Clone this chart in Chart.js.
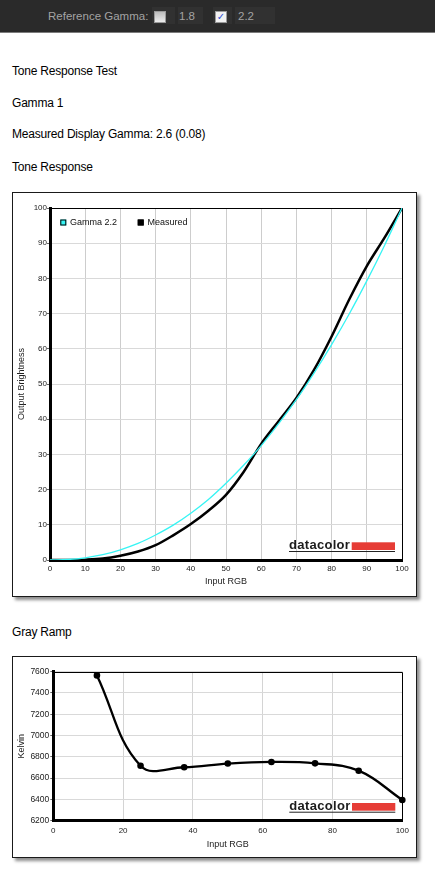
<!DOCTYPE html>
<html><head><meta charset="utf-8">
<script src="https://cdn.jsdelivr.net/npm/chart.js@4.4.1/dist/chart.umd.min.js"></script>
<style>
html,body{margin:0;padding:0;background:#fff;width:435px;height:876px;overflow:hidden;font-family:"Liberation Sans",Arial,sans-serif;}
#bar{position:absolute;left:0;top:0;width:435px;height:32px;background:#2a2a2a;border-bottom:1px solid #7c7c7c;}
.lbl{position:absolute;top:0;height:33px;line-height:33px;font-size:11.5px;color:#a3a3a3;white-space:nowrap;}
.fld{position:absolute;top:7px;height:17px;background:#313131;}
.cb{position:absolute;top:11px;width:10px;height:10px;border:1px solid #9a9a9a;background:linear-gradient(#bcbcbc,#ececec);}
.cbx{position:absolute;top:11px;width:10px;height:10px;border:1px solid #9a9a9a;background:#f2f2f2;color:#2c4fd6;font:bold 10px "DejaVu Sans",sans-serif;line-height:10px;text-align:center;overflow:hidden;}
.h{position:absolute;left:12px;font-size:12px;line-height:12px;color:#000;letter-spacing:-0.2px;white-space:nowrap;}
.frame{position:absolute;left:12px;width:405px;box-sizing:border-box;border:1px solid #1a1a1a;background:#fff;box-shadow:3px 3px 3px rgba(0,0,0,0.45);}
.frame canvas{display:block;}
</style>
</head>
<body>
<div id="bar">
  <div class="lbl" style="left:48px">Reference Gamma:</div>
  <div class="fld" style="left:152px;width:23px"></div>
  <div class="cb" style="left:154px"></div>
  <div class="fld" style="left:178px;width:25px"></div>
  <div class="lbl" style="left:179px">1.8</div>
  <div class="fld" style="left:213px;width:19px"></div>
  <div class="cbx" style="left:215px">✓</div>
  <div class="fld" style="left:235px;width:40px"></div>
  <div class="lbl" style="left:238px">2.2</div>
</div>
<div class="h" style="top:64.6px">Tone Response Test</div>
<div class="h" style="top:97px">Gamma 1</div>
<div class="h" style="top:128.3px">Measured Display Gamma: 2.6 (0.08)</div>
<div class="h" style="top:160.6px">Tone Response</div>
<div class="frame" style="top:192px;height:405px"><canvas id="c1" width="403" height="403"></canvas></div>
<div class="h" style="top:625.5px">Gray Ramp</div>
<div class="frame" style="top:656px;height:202px"><canvas id="c2" width="403" height="200"></canvas></div>
<script>
// ---- data ----
const inputRGB = [0,5,10,15,20,25,30,35,40,45,50,55,60,65,70,75,80,85,90,95,100];
const gamma22 = [0,0.14,0.63,1.5,2.9,4.7,7.1,9.9,13.3,17.2,21.8,26.9,32.5,38.8,45.6,53.1,61.2,69.9,79.3,89.3,100];
const measured = [0,0,0.1,0.4,1.2,2.4,4.2,7,10.2,14,18.5,25,33,39.5,46,54,63.5,74,83.5,91.5,100];
const toneXTicks = [0,10,20,30,40,50,60,70,80,90,100];
const toneYTicks = [0,10,20,30,40,50,60,70,80,90,100];
const rampInput = [12.5,25,37.5,50,62.5,75,87.5,100];
const rampKelvin = [7565,6717,6702,6737,6752,6739,6670,6395];
const rampXTicks = [0,20,40,60,80,100];
const rampYTicks = [6200,6400,6600,6800,7000,7200,7400,7600];

const FAM = '"Liberation Sans", Arial, sans-serif';
Chart.defaults.font.family = FAM;

const pts = (xs, ys) => xs.map((x,i)=>({x:x, y:ys[i]}));

const frameBorder = {
  id:'frameBorder',
  beforeDatasetsDraw(chart){
    const {ctx, chartArea:a} = chart;
    ctx.save(); ctx.strokeStyle='#000'; ctx.lineWidth=1;
    ctx.beginPath();
    ctx.moveTo(a.left, Math.round(a.top)+0.5);
    ctx.lineTo(Math.round(a.right)+0.5, Math.round(a.top)+0.5);
    ctx.lineTo(Math.round(a.right)+0.5, a.bottom);
    ctx.stroke(); ctx.restore();
  }
};
const logo = {
  id:'logo',
  afterDatasetsDraw(chart){
    const {ctx, chartArea:a} = chart;
    ctx.save();
    ctx.font = 'bold 13px ' + FAM;
    if ('letterSpacing' in ctx) ctx.letterSpacing = '0.3px';
    ctx.fillStyle = '#1c1c1c';
    ctx.textBaseline = 'alphabetic'; ctx.textAlign = 'left';
    ctx.fillText('datacolor', a.right-113, a.bottom-11);
    ctx.fillStyle = '#e63c36';
    ctx.fillRect(a.right-50.3, a.bottom-17.7, 43.3, 7.7);
    ctx.fillStyle = '#222';
    ctx.fillRect(a.right-113, a.bottom-9, 106, 1);
    ctx.restore();
  }
};
const legendIn = {
  id:'legendIn',
  afterDraw(chart){
    if (!chart.options.plugins.legendIn || !chart.options.plugins.legendIn.show) return;
    const {ctx, chartArea:a} = chart;
    ctx.save(); ctx.font = '9px ' + FAM; ctx.textBaseline = 'middle'; ctx.textAlign='left';
    let x = a.left + 10.3; const y = a.top + 14.5;
    chart.data.datasets.forEach(ds=>{
      ctx.fillStyle = ds.borderColor; ctx.fillRect(x, y-3, 6, 6);
      ctx.strokeStyle = '#000'; ctx.lineWidth = 1; ctx.strokeRect(x+0.5, y-2.5, 5, 5);
      ctx.fillStyle = '#111'; ctx.fillText(ds.label, x+9.7, y);
      x += 9.7 + ctx.measureText(ds.label).width + 20.7;
    });
    ctx.restore();
  }
};

function axis(opts){
  return {
    type:'linear', min:opts.min, max:opts.max,
    afterBuildTicks(s){ s.ticks = opts.ticks.map(v=>({value:v})); },
    ticks:{font:{size:opts.fs}, color:'#222', padding:opts.pad, maxRotation:0, autoSkip:false, callback: v => String(v)},
    grid:{
      color: c => (c.tick && (c.tick.value===opts.min)) ? 'rgba(0,0,0,0)' : opts.grid,
      lineWidth:1, tickLength:3, tickColor: opts.tickColor, drawTicks:true
    },
    border:{display:true, color:'#000', width:3},
    title:{display:true, text:opts.title, font:{size:9}, color:'#222', padding:opts.tpad},
    afterFit(s){ if (opts.w) s.width = opts.w; if (opts.h) s.height = opts.h; }
  };
}

new Chart(document.getElementById('c1'), {
  type:'line',
  data:{datasets:[
    {label:'Gamma 2.2', data:pts(inputRGB, gamma22), borderColor:'#36f4f4', backgroundColor:'#36f4f4', borderWidth:1.3, pointRadius:0, cubicInterpolationMode:'monotone', fill:false},
    {label:'Measured', data:pts(inputRGB, measured), borderColor:'#000', backgroundColor:'#000', borderWidth:2.5, pointRadius:0, cubicInterpolationMode:'monotone', fill:false}
  ]},
  options:{
    responsive:false, animation:false, events:[],
    layout:{padding:{top:15, right:14, left:0, bottom:0}},
    plugins:{legend:{display:false}, tooltip:{enabled:false}, legendIn:{show:true}},
    scales:{
      x: axis({min:0,max:100,ticks:toneXTicks,fs:8,pad:1,grid:'#cdcdcd',tickColor:'rgba(0,0,0,0)',title:'Input RGB',tpad:{top:0,bottom:8.6},h:36}),
      y: axis({min:0,max:100,ticks:toneYTicks,fs:8,pad:0,grid:'#d9d9d9',tickColor:'#666',title:'Output Brightness',tpad:{top:3.6,bottom:0},w:37})
    }
  },
  plugins:[frameBorder, logo, legendIn]
});

new Chart(document.getElementById('c2'), {
  type:'line',
  data:{datasets:[
    {label:'Kelvin', data:pts(rampInput, rampKelvin), borderColor:'#000', backgroundColor:'#000', borderWidth:2.3, pointRadius:3.3, pointBackgroundColor:'#000', pointBorderWidth:0, tension:0.4, fill:false, clip:false}
  ]},
  options:{
    responsive:false, animation:false, events:[],
    layout:{padding:{top:14.7, right:13.7, left:0, bottom:0}},
    plugins:{legend:{display:false}, tooltip:{enabled:false}},
    scales:{
      x: axis({min:0,max:100,ticks:rampXTicks,fs:8,pad:2,grid:'#d4d4d4',tickColor:'rgba(0,0,0,0)',title:'Input RGB',tpad:{top:0,bottom:7.1},h:36.3}),
      y: axis({min:6200,max:7600,ticks:rampYTicks,fs:8.5,pad:1,grid:'#d9d9d9',tickColor:'#666',title:'Kelvin',tpad:{top:3.1,bottom:0},w:40.3})
    }
  },
  plugins:[frameBorder, logo]
});
</script>
</body></html>
